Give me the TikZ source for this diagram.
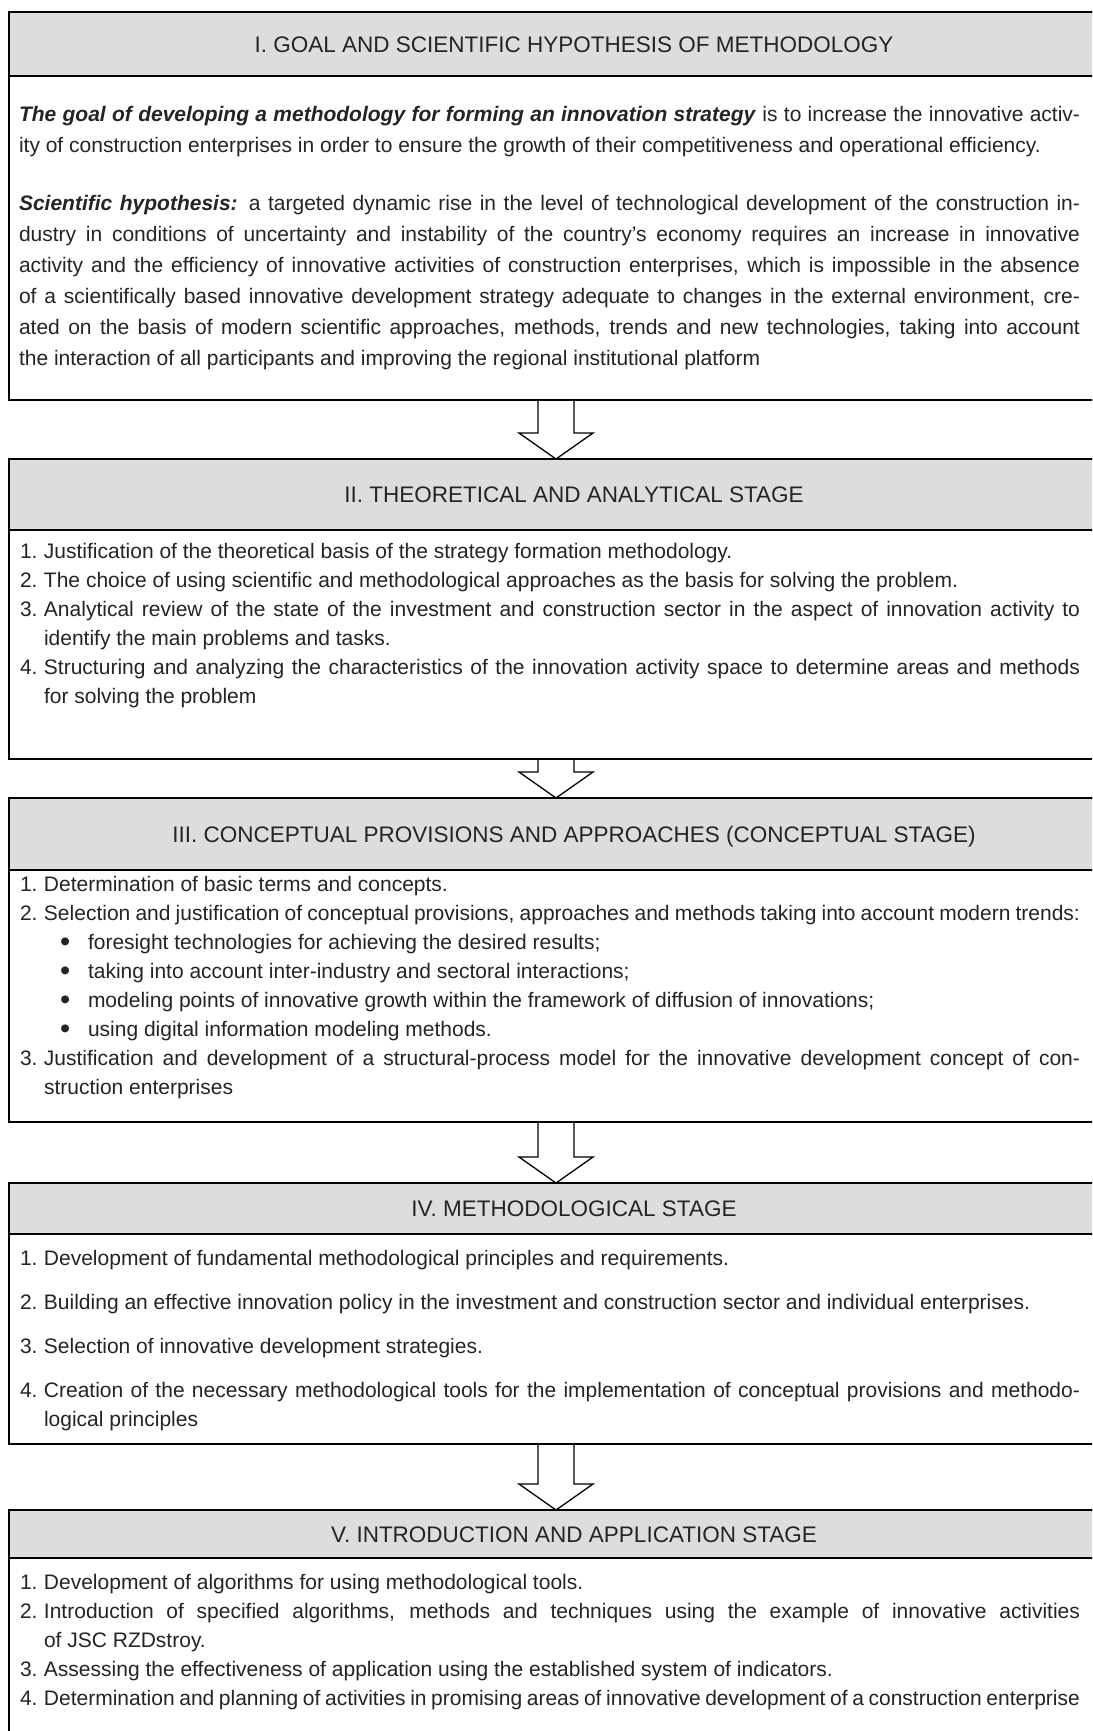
\documentclass[tikz,border=0pt]{standalone}
\usepackage{fontspec}
\setmainfont{Liberation Sans}
\usetikzlibrary{calc}

\definecolor{bandgray}{RGB}{220,221,223}
\definecolor{inkgray}{RGB}{38,35,36}

% line width of the text columns
\newlength\colw
% justified line / ragged line, optional left indent
\newcommand\jl[2][0pt]{\hbox to \colw{\hskip#1\relax\rule{0pt}{16.5pt}#2}}
\newcommand\rl[2][0pt]{\hbox to \colw{\hskip#1\relax\rule{0pt}{16.5pt}#2\hfil}}
\newcommand\itemno[1]{\makebox[24pt][l]{#1}}
\newcommand\bulletmark{\hskip40pt\makebox[28pt][l]{\raisebox{-2.5pt}{\fontsize{29}{29}\selectfont •}}}

\begin{document}
\begin{tikzpicture}[x=1pt,y=-1pt,
  stagebox/.style={draw=black, line width=1.6pt, inner sep=0pt, outer sep=0pt,
    anchor=north west, minimum width=1130pt},
  bandbox/.style={stagebox, fill=bandgray, text=inkgray,
    font=\fontsize{22.5}{26}\selectfont, text height=16.1pt, text depth=0pt},
  bodytext/.style={anchor=north west, inner sep=0pt, outer sep=0pt, text=inkgray},
  blockarrow/.style={draw=black, line width=1.3pt, line join=miter}
]
\useasboundingbox (0,0) rectangle (1092,1731);
\clip (0,0) rectangle (1092,1731);
\fill[white] (0,0) rectangle (1092,1731);

% ---------- stage frames ----------
\node[bandbox, minimum height=64pt] (h1) at (9,12) {I. GOAL AND SCIENTIFIC HYPOTHESIS OF METHODOLOGY};
\node[stagebox, minimum height=388pt] (b1) at (9,12) {};

\node[bandbox, minimum height=71pt] (h2) at (9,459) {II. THEORETICAL AND ANALYTICAL STAGE};
\node[stagebox, minimum height=300pt] (b2) at (9,459) {};

\node[bandbox, minimum height=72pt] (h3) at (9,798) {III. CONCEPTUAL PROVISIONS AND APPROACHES (CONCEPTUAL STAGE)};
\node[stagebox, minimum height=324pt] (b3) at (9,798) {};

\node[bandbox, minimum height=51pt] (h4) at (9,1183) {IV. METHODOLOGICAL STAGE};
\node[stagebox, minimum height=261pt] (b4) at (9,1183) {};

\node[bandbox, minimum height=48pt] (h5) at (9,1510) {V. INTRODUCTION AND APPLICATION STAGE};
\node[stagebox, minimum height=260pt] (b5) at (9,1510) {};

% ---------- block arrows between stages ----------
\coordinate (ax) at (556,0);
\foreach \a/\b in {b1/b2,b2/b3,b3/b4,b4/b5}{
  \draw[blockarrow]
    ($(\a.south -| ax)+(-18,0)$) -- ($(\b.north -| ax)+(-18,-26)$)
    -- ($(\b.north -| ax)+(-37,-26)$) -- (\b.north -| ax)
    -- ($(\b.north -| ax)+(37,-26)$) -- ($(\b.north -| ax)+(18,-26)$)
    -- ($(\a.south -| ax)+(18,0)$);
}

% ---------- stage I text ----------
\node[bodytext] (p1) at (19,104.5) {\setlength\colw{1061pt}\vbox{\fontsize{21}{31}\selectfont
\jl{\textbf{\textit{The goal of developing a methodology for forming an innovation strategy}} is to increase the innovative activ-}
\rl{ity of construction enterprises in order to ensure the growth of their competitiveness and operational efficiency.}
\vskip27pt
\jl{\textbf{\textit{Scientific hypothesis:}} a targeted dynamic rise in the level of technological development of the construction in-}
\jl{dustry in conditions of uncertainty and instability of the country's economy requires an increase in innovative}
\jl{activity and the efficiency of innovative activities of construction enterprises, which is impossible in the absence}
\jl{of a scientifically based innovative development strategy adequate to changes in the external environment, cre-}
\jl{ated on the basis of modern scientific approaches, methods, trends and new technologies, taking into account}
\rl{the interaction of all participants and improving the regional institutional platform}
}};

% ---------- stage II text ----------
\node[bodytext] (p2) at (20,541.5) {\setlength\colw{1060pt}\vbox{\fontsize{21}{29}\selectfont
\rl{\itemno{1.}Justification of the theoretical basis of the strategy formation methodology.}
\rl{\itemno{2.}The choice of using scientific and methodological approaches as the basis for solving the problem.}
\jl{\itemno{3.}Analytical review of the state of the investment and construction sector in the aspect of innovation activity to}
\rl[24pt]{identify the main problems and tasks.}
\jl{\itemno{4.}Structuring and analyzing the characteristics of the innovation activity space to determine areas and methods}
\rl[24pt]{for solving the problem}
}};

% ---------- stage III text ----------
\node[bodytext] (p3) at (20,874.5) {\setlength\colw{1060pt}\vbox{\fontsize{21}{29}\selectfont
\rl{\itemno{1.}Determination of basic terms and concepts.}
\rl{\itemno{2.}Selection and justification of conceptual provisions, approaches and methods taking into account modern trends:}
\rl{\bulletmark foresight technologies for achieving the desired results;}
\rl{\bulletmark taking into account inter-industry and sectoral interactions;}
\rl{\bulletmark modeling points of innovative growth within the framework of diffusion of innovations;}
\rl{\bulletmark using digital information modeling methods.}
\jl{\itemno{3.}Justification and development of a structural-process model for the innovative development concept of con-}
\rl[24pt]{struction enterprises}
}};

% ---------- stage IV text ----------
\node[bodytext] (p4) at (20,1248.5) {\setlength\colw{1060pt}\vbox{\fontsize{21}{29}\selectfont
\rl{\itemno{1.}Development of fundamental methodological principles and requirements.}
\vskip15pt
\rl{\itemno{2.}Building an effective innovation policy in the investment and construction sector and individual enterprises.}
\vskip15pt
\rl{\itemno{3.}Selection of innovative development strategies.}
\vskip15pt
\jl{\itemno{4.}Creation of the necessary methodological tools for the implementation of conceptual provisions and methodo-}
\rl[24pt]{logical principles}
}};

% ---------- stage V text ----------
\node[bodytext] (p5) at (20,1572.5) {\setlength\colw{1060pt}\vbox{\fontsize{21}{29}\selectfont
\rl{\itemno{1.}Development of algorithms for using methodological tools.}
\jl{\itemno{2.}Introduction of specified algorithms, methods and techniques using the example of innovative activities}
\rl[24pt]{of JSC RZDstroy.}
\rl{\itemno{3.}Assessing the effectiveness of application using the established system of indicators.}
\rl{\itemno{4.}Determination and planning of activities in promising areas of innovative development of a construction enterprise}
}};
\end{tikzpicture}
\end{document}
